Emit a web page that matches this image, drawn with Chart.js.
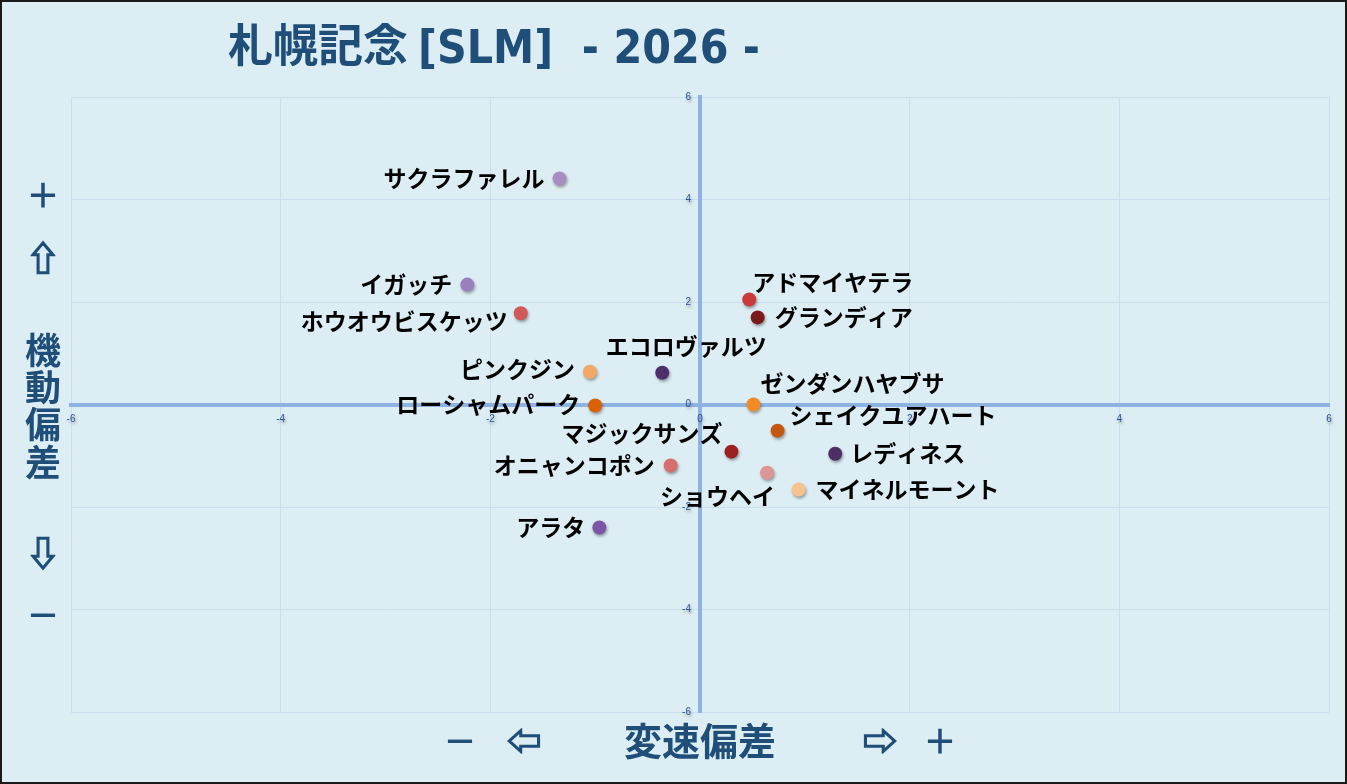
<!DOCTYPE html>
<html>
<head>
<meta charset="utf-8">
<script src="https://cdn.jsdelivr.net/npm/chart.js@4/dist/chart.umd.min.js"></script>
<style>
  body { margin: 0; background: #ffffff; }
  #wrap { width: 1347px; height: 784px; position: relative; }
</style>
</head>
<body>
<div id="wrap"><canvas id="chart" width="1347" height="784"></canvas></div>
<script>
// Horse names and their (変速偏差, 機動偏差) values
const horses = ['サクラファレル', 'イガッチ', 'ホウオウビスケッツ', 'アドマイヤテラ', 'グランディア',
  'エコロヴァルツ', 'ピンクジン', 'ゼンダンハヤブサ', 'ローシャムパーク', 'シェイクユアハート',
  'マジックサンズ', 'レディネス', 'オニャンコポン', 'ショウヘイ', 'マイネルモーント', 'アラタ'];
const speedDev = [-1.34, -2.22, -1.71, 0.47, 0.55, -0.36, -1.05, 0.51, -1.00, 0.74, 0.30, 1.29, -0.28, 0.64, 0.94, -0.96];
const mobilityDev = [4.41, 2.34, 1.78, 2.05, 1.70, 0.62, 0.64, 0.00, -0.02, -0.51, -0.92, -0.96, -1.19, -1.33, -1.66, -2.40];
const axisTicks = [-6, -4, -2, 0, 2, 4, 6];

const titleJa = '札幌記念';
const titleEn = '[SLM]  - 2026 -';
const yAxisText = ['＋', '⇧', '機', '動', '偏', '差', '⇩', '－'];
const xAxisText = ['－', '⇦', '変速偏差', '⇨', '＋'];

// point colours
const pointColors = ['#a98cc2', '#9a7fbf', '#d05858', '#c93a3a', '#7a1b1b', '#4f2f6b', '#f5a866',
  '#f28b26', '#db6106', '#c45810', '#9b2020', '#4b2f66', '#d66e6e', '#dc9696', '#f8c28e', '#7c56a6'];

// where each name sits relative to its point: [align, dx, dy]
const labelPos = [
  ['right', -15, 0], ['right', -15, 0], ['right', -13, 8], ['left', 3, -17], ['left', 17, 0],
  ['center', 24, -26], ['right', -15, -2], ['left', 7, -21], ['right', -15, -1], ['left', 12, -15],
  ['right', -9, -18], ['left', 15, 0], ['right', -16, 0], ['right', 8, 24], ['left', 17, 0], ['right', -14, 0]
];

const navy = '#1f4e79';
const jpFont = '"Noto Sans CJK JP", "Noto Sans", sans-serif';

const backgroundPlugin = {
  id: 'bg',
  beforeDraw(chart) {
    const ctx = chart.ctx;
    ctx.save();
    ctx.fillStyle = '#dcedf3';
    ctx.fillRect(0, 0, chart.width, chart.height);
    ctx.restore();
  },
  afterDraw(chart) {
    const ctx = chart.ctx;
    ctx.save();
    // title: kanji part, then a squeezed latin part
    ctx.fillStyle = navy;
    ctx.textBaseline = 'alphabetic';
    ctx.font = 'bold 45px ' + jpFont;
    ctx.textAlign = 'left';
    ctx.fillText(titleJa, 228, 62);
    ctx.font = 'bold 47px "Liberation Sans Narrow", "DejaVu Sans Condensed", sans-serif';
    const w = ctx.measureText(titleEn).width;
    ctx.save();
    ctx.translate(418, 63);
    ctx.scale(342 / w, 1);
    ctx.fillText(titleEn, 0, 0);
    ctx.restore();

    // left axis caption
    ctx.textAlign = 'center';
    ctx.textBaseline = 'middle';
    ctx.strokeStyle = navy;
    ctx.lineWidth = 1.6;
    const yPosList = [195, 258, 350, 387, 424, 462, 553, 615];
    yAxisText.forEach((t, i) => {
      ctx.font = 'bold ' + (i >= 2 && i <= 5 ? 36 : 34) + 'px ' + jpFont;
      ctx.fillText(t, 43, yPosList[i]);
      if (i === 1 || i === 6) ctx.strokeText(t, 43, yPosList[i]);
    });

    // bottom axis caption
    const xPosList = [460, 524, 700, 880, 940];
    xAxisText.forEach((t, i) => {
      ctx.font = 'bold ' + (i === 2 ? 38 : 34) + 'px ' + jpFont;
      ctx.fillText(t, xPosList[i], 741);
      if (i === 1 || i === 3) ctx.strokeText(t, xPosList[i], 741);
    });

    // frame
    ctx.strokeStyle = '#1a1a1a';
    ctx.lineWidth = 2;
    ctx.strokeRect(1, 1, chart.width - 2, chart.height - 2);
    ctx.restore();
  }
};

// tick numbers placed beside the centred axes
const tickPlugin = {
  id: 'centerTicks',
  afterDatasetsDraw(chart) {
    const ctx = chart.ctx;
    const xs = chart.scales.x, ys = chart.scales.y;
    const x0 = xs.getPixelForValue(0), y0 = ys.getPixelForValue(0);
    ctx.save();
    ctx.fillStyle = '#2f5597';
    ctx.font = '10px "Liberation Sans", sans-serif';
    ctx.textAlign = 'right';
    ctx.textBaseline = 'middle';
    axisTicks.forEach(v => ctx.fillText(String(v), x0 - 9, ys.getPixelForValue(v)));
    ctx.textAlign = 'center';
    ctx.textBaseline = 'top';
    axisTicks.forEach(v => ctx.fillText(String(v), xs.getPixelForValue(v), y0 + 10));
    ctx.restore();
  }
};

const shadowPlugin = {
  id: 'shadow',
  beforeDatasetsDraw(chart) {
    const ctx = chart.ctx;
    ctx.save();
    ctx.shadowColor = 'rgba(0,0,0,0.35)';
    ctx.shadowBlur = 3;
    ctx.shadowOffsetX = 1;
    ctx.shadowOffsetY = 2;
  },
  afterDatasetsDraw(chart) {
    const ctx = chart.ctx;
    ctx.restore();
    // horse names
    const meta = chart.getDatasetMeta(0);
    ctx.save();
    ctx.fillStyle = '#000000';
    ctx.font = 'bold 23px ' + jpFont;
    ctx.textBaseline = 'middle';
    meta.data.forEach((pt, i) => {
      const p = labelPos[i];
      ctx.textAlign = p[0];
      ctx.fillText(horses[i], pt.x + p[1], pt.y + p[2]);
    });
    ctx.restore();
  }
};

const axisOpts = (pos) => ({
  type: 'linear',
  min: -6,
  max: 6,
  position: pos,
  afterBuildTicks: (scale) => { scale.ticks = axisTicks.map(v => ({ value: v })); },
  ticks: { display: false },
  grid: { color: '#cadef0', lineWidth: 1, drawTicks: false },
  border: { color: '#8db3e2', width: 4 }
});

new Chart(document.getElementById('chart'), {
  type: 'scatter',
  data: {
    datasets: [{
      data: horses.map((h, i) => ({ x: speedDev[i], y: mobilityDev[i] })),
      backgroundColor: pointColors,
      borderColor: pointColors,
      borderWidth: 0,
      pointRadius: 7,
      pointHoverRadius: 7
    }]
  },
  options: {
    responsive: false,
    animation: false,
    devicePixelRatio: 1,
    layout: { padding: { left: 71, right: 18, top: 97, bottom: 72 } },
    plugins: { legend: { display: false }, tooltip: { enabled: false } },
    scales: {
      x: axisOpts({ y: 0 }),
      y: axisOpts({ x: 0 })
    }
  },
  plugins: [backgroundPlugin, tickPlugin, shadowPlugin]
});
</script>
</body>
</html>
